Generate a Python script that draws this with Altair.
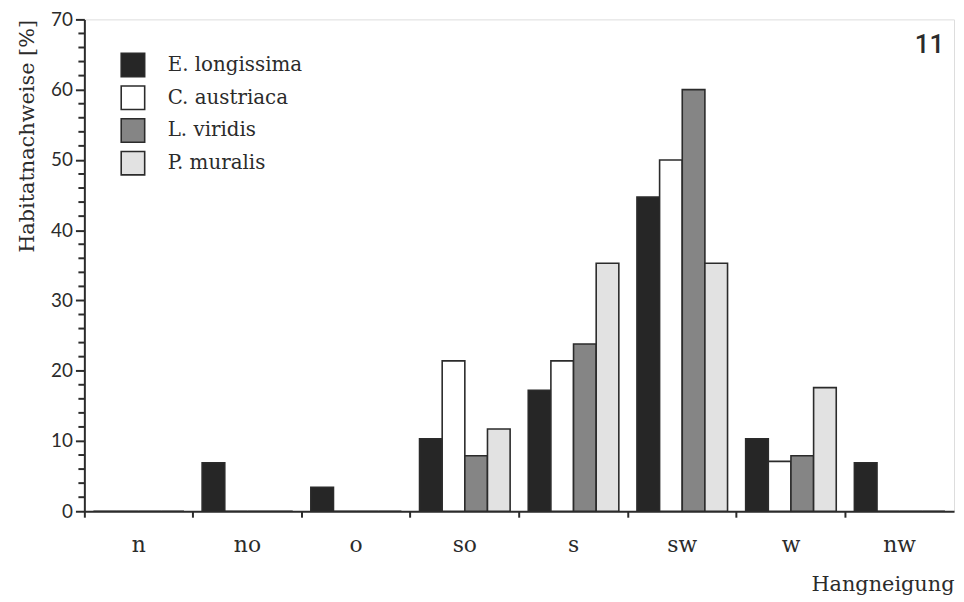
import altair as alt
import pandas as pd

categories = ["n", "no", "o", "so", "s", "sw", "w", "nw"]
species = ["E. longissima", "C. austriaca", "L. viridis", "P. muralis"]
e_longissima = [0, 6.9, 3.4, 10.3, 17.2, 44.7, 10.3, 6.9]
c_austriaca = [0, 0, 0, 21.4, 21.4, 50.0, 7.1, 0]
l_viridis = [0, 0, 0, 7.9, 23.8, 60.0, 7.9, 0]
p_muralis = [0, 0, 0, 11.7, 35.3, 35.3, 17.6, 0]
major_ticks = list(range(0, 71, 10))
minor_ticks = [v for v in range(0, 71, 2) if v % 10 != 0]

rows = []
for sp, vals in zip(species, [e_longissima, c_austriaca, l_viridis, p_muralis]):
    for c, v in zip(categories, vals):
        rows.append({"Hangneigung": c, "Art": sp, "Wert": v})
df = pd.DataFrame(rows)
minor_df = pd.DataFrame({"Wert": minor_ticks})

ink = "#2b2b2b"
serif = "DejaVu Serif"
sans = "Lato"
yscale = alt.Scale(domain=[0, 70], nice=False)

bars = alt.Chart(df).mark_bar(stroke=ink, strokeWidth=1.6).encode(
    x=alt.X("Hangneigung:N", sort=categories,
            scale=alt.Scale(paddingInner=0, paddingOuter=0),
            axis=alt.Axis(title="Hangneigung", titleAnchor="end", titleFont=serif,
                          titleFontSize=21, titleFontWeight="normal", titleColor=ink,
                          titlePadding=18, labelAngle=0, labelFont=serif,
                          labelFontSize=22, labelColor=ink, labelPadding=18,
                          bandPosition=0, tickSize=6, tickColor=ink, tickWidth=2,
                          domainColor=ink, domainWidth=2)),
    xOffset=alt.XOffset("Art:N", sort=species,
                        scale=alt.Scale(paddingInner=0, paddingOuter=0.4)),
    y=alt.Y("Wert:Q", scale=yscale,
            axis=alt.Axis(title="Habitatnachweise [%]", titleAnchor="end",
                          titleFont=serif, titleFontSize=21, titleFontWeight="normal",
                          titleColor=ink, titlePadding=13,
                          values=major_ticks,
                          labelFont=sans, labelFontSize=19, labelColor=ink,
                          labelPadding=3, tickSize=9,
                          tickColor=ink, tickWidth=2, domainColor=ink, domainWidth=2,
                          grid=False)),
    fill=alt.Fill("Art:N", sort=species,
                  scale=alt.Scale(domain=species,
                                  range=["#262626", "#ffffff", "#858585", "#e2e2e2"]),
                  legend=alt.Legend(title=None, orient="none", legendX=36, legendY=33,
                                    symbolType="square", symbolSize=560,
                                    symbolStrokeColor=ink, symbolStrokeWidth=1.6,
                                    labelFont=serif, labelFontSize=20, labelColor=ink,
                                    labelOffset=22, rowPadding=1, labelLimit=300)),
)

minor = alt.Chart(minor_df).mark_rule(color=ink, strokeWidth=2).encode(
    y=alt.Y("Wert:Q", scale=yscale),
    x=alt.value(-6),
    x2=alt.value(0),
)

chart = alt.layer(bars, minor).properties(
    width=877, height=496,
    padding={"left": 77, "top": 9, "right": 2, "bottom": 86},
    autosize="none",
    title=alt.TitleParams("11", anchor="end", font="Roboto",
                          fontSize=26, fontWeight=500, color=ink,
                          dx=-10, dy=52),
).configure_view(stroke=ink, strokeWidth=2).configure(background="white")

chart.save("out.html", embed_options={"renderer": "svg", "actions": False})
